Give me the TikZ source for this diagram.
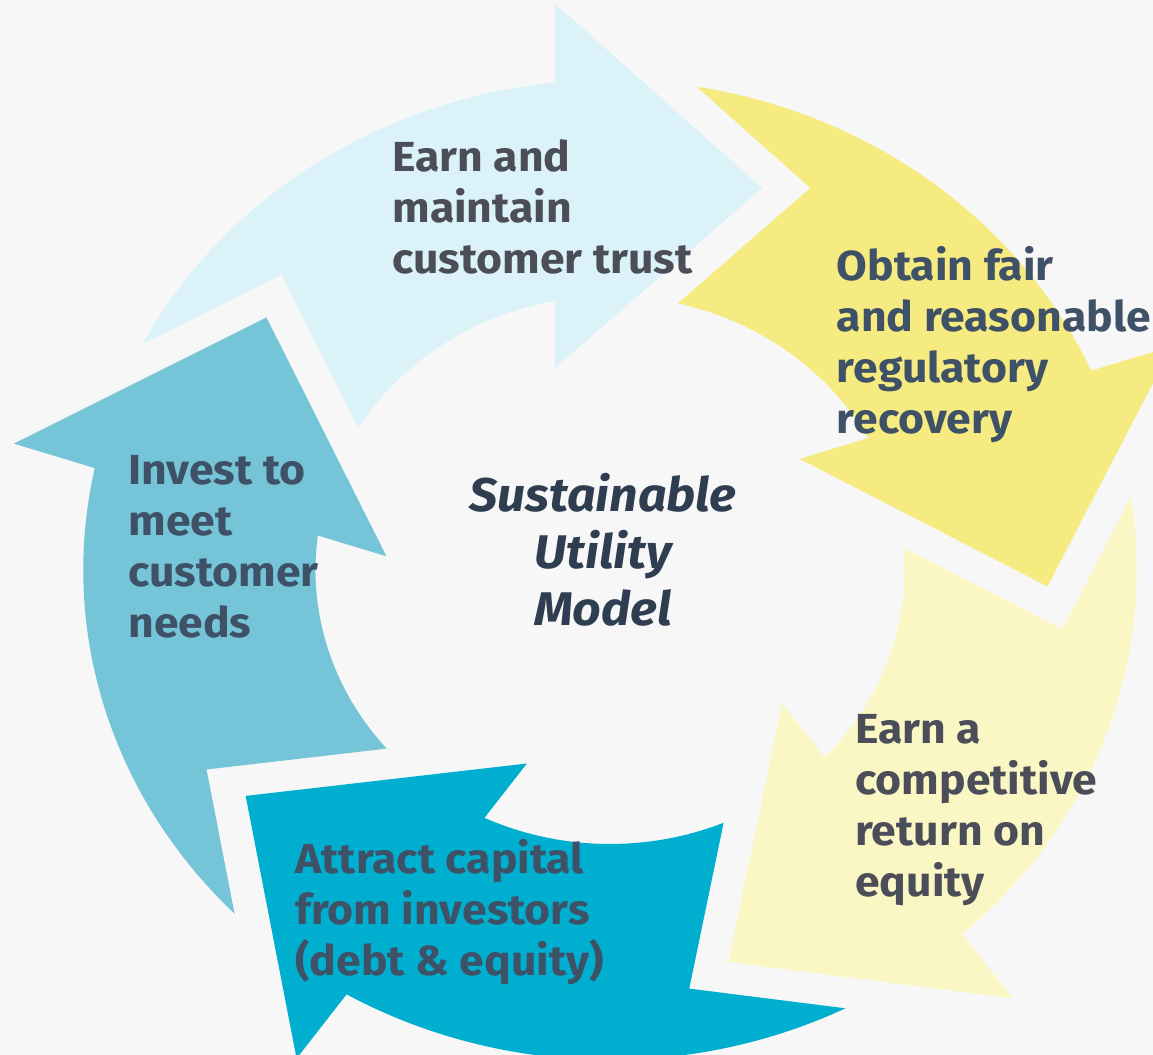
\documentclass[tikz,border=0pt]{standalone}
\usepackage{fontspec}
\setmainfont{Fira Sans}[FakeStretch=1.06]
\definecolor{bg}{HTML}{F7F7F7}
\definecolor{arrA}{HTML}{DAF2F8}
\definecolor{arrB}{HTML}{F6EB80}
\definecolor{arrC}{HTML}{FBF7C5}
\definecolor{arrD}{HTML}{00AFD0}
\definecolor{arrE}{HTML}{75C4D7}
\definecolor{txtgray}{HTML}{4B4E58}
\definecolor{txtblue}{HTML}{3E5166}
\definecolor{txtdark}{HTML}{2E3D4F}
\newcommand\cyclearrowpath{(152.54:490) arc[start angle=152.54, end angle=96.0, radius=490] -- (-51.2,566.5) -- (141.4,382) -- (-51.2,202) -- (100.77:274) arc[start angle=100.77, end angle=148.69, radius=274] -- (-305.7,295.3) -- cycle}
\begin{document}
\begin{tikzpicture}[x=0.5pt,y=0.5pt,
  lbl/.style={anchor=base west, align=left, inner sep=0pt, font=\fontsize{21}{25.5}\selectfont\bfseries},
  centerlbl/.style={anchor=base, align=center, inner sep=0pt, font=\fontsize{23.6}{28.5}\selectfont\bfseries\itshape, text=txtdark}]
\clip (0,0) rectangle (1153,1055);
\fill[bg] (0,0) rectangle (1153,1055);
\foreach \k/\c in {0/arrA,1/arrB,2/arrC,3/arrD,4/arrE}{
  \begin{scope}[shift={(610,485)}, xscale=1.075, rotate=-72*\k]
    \fill[\c] \cyclearrowpath;
  \end{scope}
}
\node[lbl, text=txtgray] (trust) at (392,781) {Earn and\\maintain\\customer trust};
\node[lbl, text=txtblue] (recovery) at (836.5,621.5) {Obtain fair\\and reasonable\\regulatory\\recovery};
\node[lbl, text=txtgray] (roe) at (855,158) {Earn a\\competitive\\return on\\equity};
\node[lbl, text=txtblue] (capital) at (295,79) {Attract capital\\from investors\\(debt \& equity)};
\node[lbl, text=txtblue] (invest) at (128,417) {Invest to\\meet\\customer\\needs};
\node[centerlbl] (model) at (603,429) {Sustainable\\Utility\\Model};
\end{tikzpicture}
\end{document}
